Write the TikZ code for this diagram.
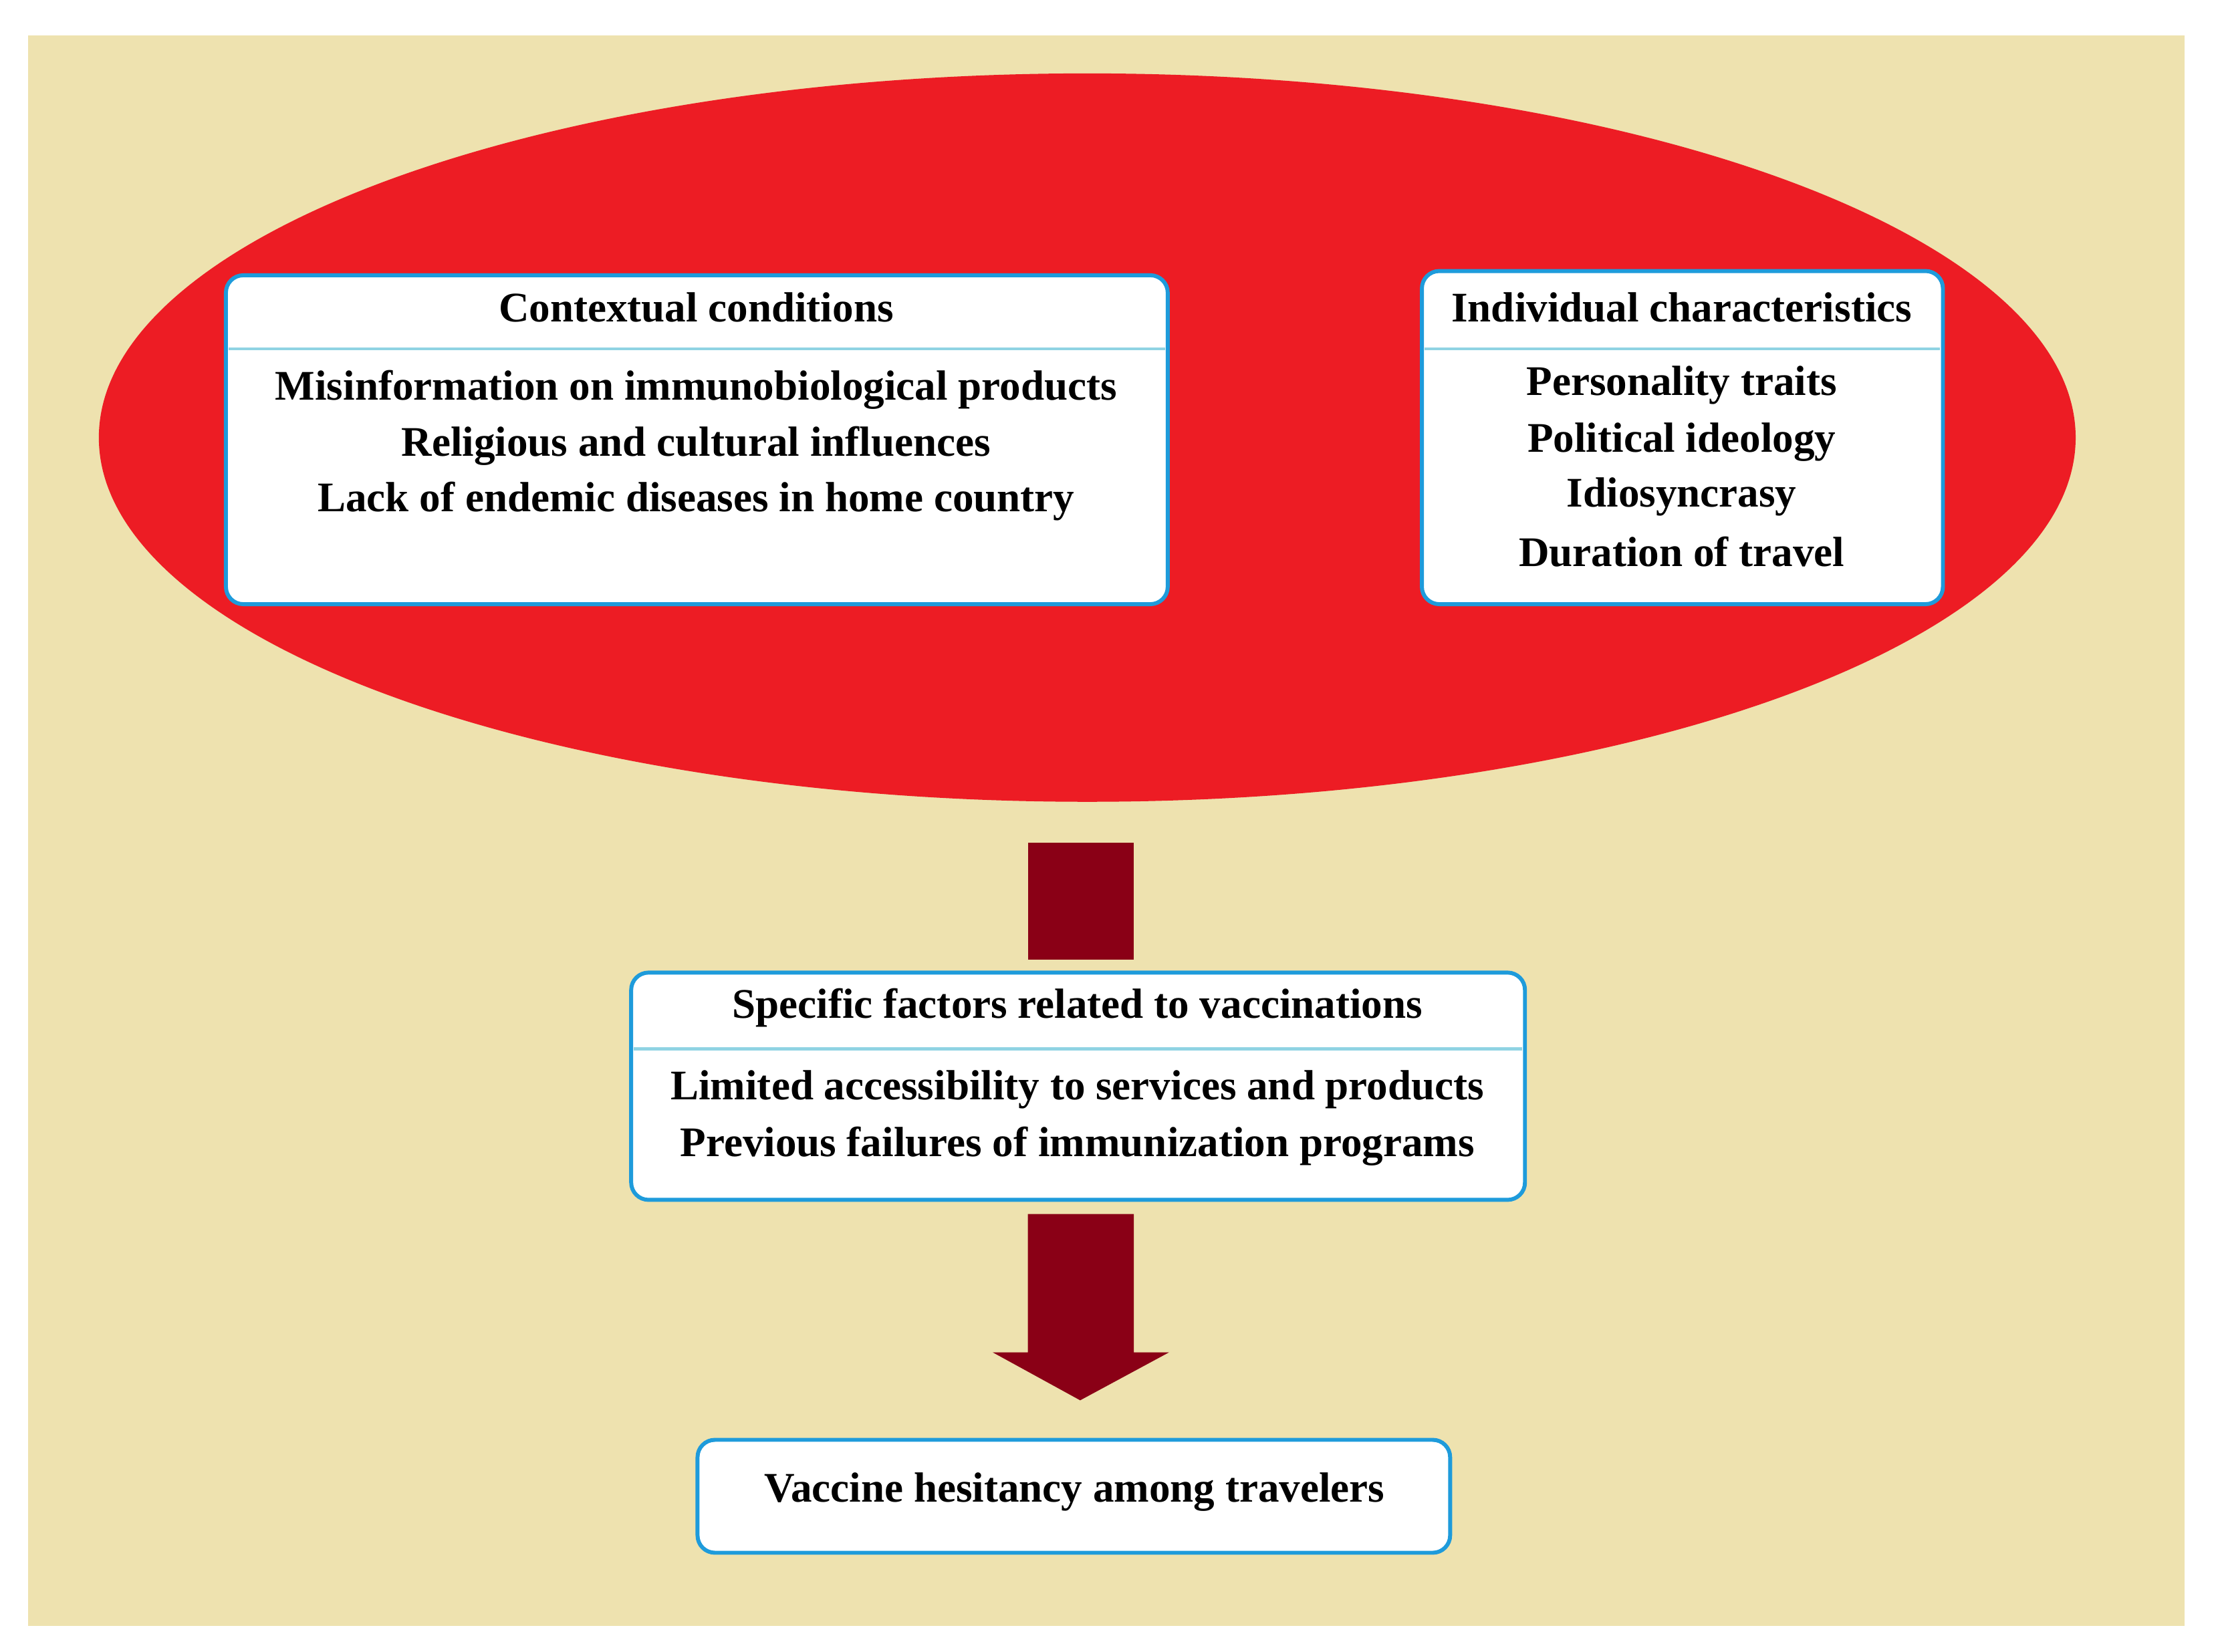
\documentclass[tikz,border=0pt]{standalone}
\usepackage{fontspec}
\setmainfont{Liberation Serif}
\usetikzlibrary{positioning}
\definecolor{bg}{HTML}{EEE2AF}
\definecolor{ered}{HTML}{ED1C24}
\definecolor{arr}{HTML}{8A0016}
\definecolor{bord}{HTML}{1E9BDB}
\definecolor{sep}{HTML}{8FD3E3}
\tikzset{
 box/.style={draw=bord,line width=1.6pt,fill=white,rounded corners=7pt},
 sepl/.style={draw=sep,line width=1.2pt},
 txt/.style={font=\fontsize{17}{20}\selectfont\bfseries,inner sep=0pt,anchor=center},
}
\begin{document}
\begin{tikzpicture}[x=0.02cm,y=-0.02cm]
\useasboundingbox (0,0) rectangle (1568,1170);
\fill[bg] (20,25) rectangle (1547,1152);
\fill[ered] (770,310) ellipse [x radius=700, y radius=258];
% box 1
\draw[box] (160,195) rectangle (827,428);
\draw[sepl] (162,247) -- (825,247);
\node[txt] (c1) at (493,218) {Contextual conditions};
\node[txt] (c2) at (493,276) {Misinformation on immunobiological products};
\node[txt] (c3) at (493,316) {Religious and cultural influences};
\node[txt] (c4) at (493,355) {Lack of endemic diseases in home country};
% box 2
\draw[box] (1007,192) rectangle (1376,428);
\draw[sepl] (1009,247) -- (1374,247);
\node[txt] (i1) at (1191,218) {Individual characteristics};
\node[txt] (i2) at (1191,273) {Personality traits};
\node[txt] (i3) at (1191,313) {Political ideology};
\node[txt] (i4) at (1191,352) {Idiosyncrasy};
\node[txt] (i5) at (1191,391) {Duration of travel};
% arrow 1
\fill[arr] (728,597) rectangle (803,680);
% box 3
\draw[box] (447,689) rectangle (1080,850);
\draw[sepl] (449,743) -- (1078,743);
\node[txt] (s1) at (763,714) {Specific factors related to vaccinations};
\node[txt] (s2) at (763,772) {Limited accessibility to services and products};
\node[txt] (s3) at (763,812) {Previous failures of immunization programs};
% arrow 2
\fill[arr] (728,860) -- (803,860) -- (803,958) -- (828,958) -- (765,992) -- (703,958) -- (728,958) -- cycle;
% box 4
\draw[box] (494,1020) rectangle (1027,1100);
\node[txt] (v) at (761,1057) {Vaccine hesitancy among travelers};
\end{tikzpicture}
\end{document}
